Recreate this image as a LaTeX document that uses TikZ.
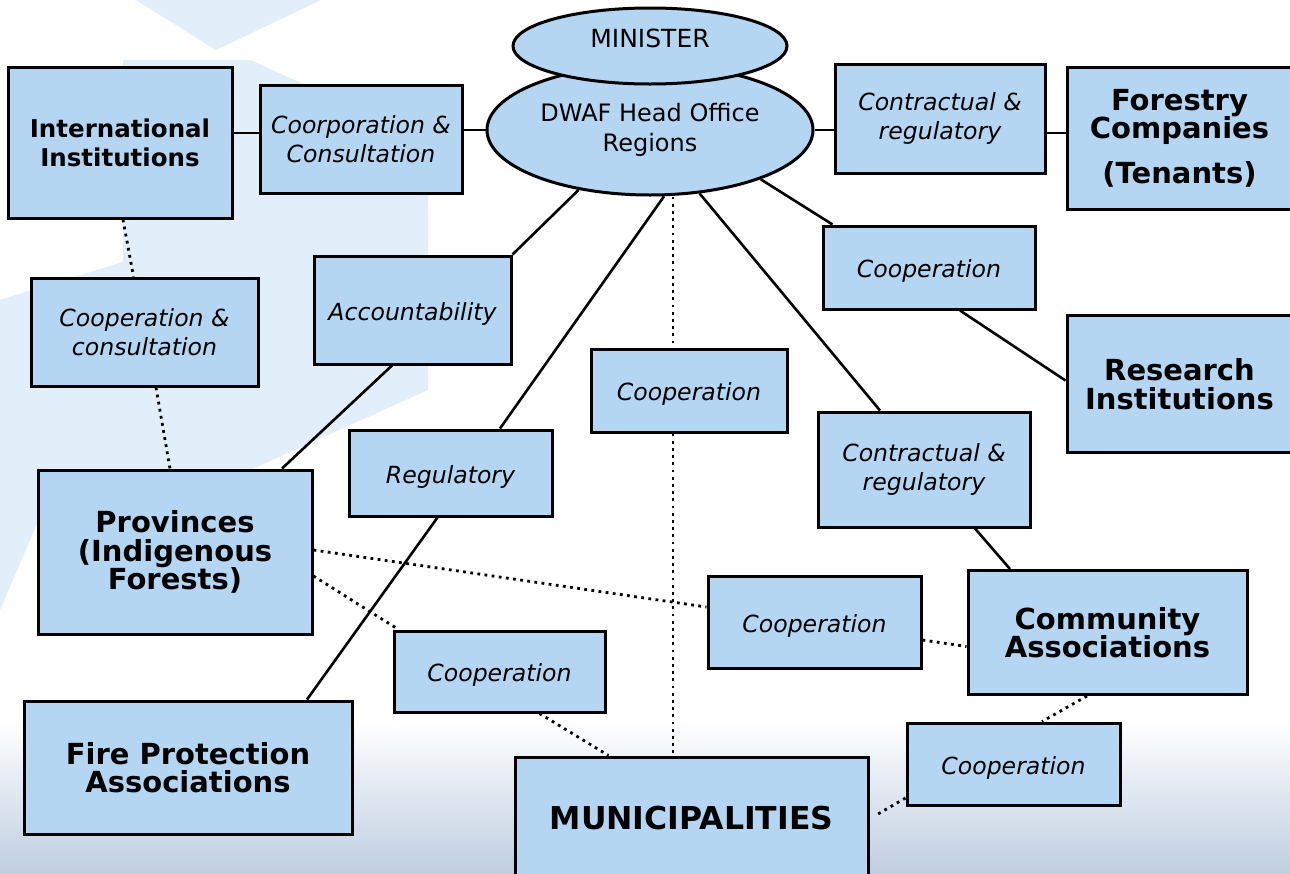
\documentclass[tikz,border=0pt]{standalone}
\usepackage{fontspec}
\setmainfont{DejaVu Sans}
\usetikzlibrary{shapes.geometric,calc}
\definecolor{boxblue}{RGB}{181,214,243}
\definecolor{bgpale}{RGB}{226,238,249}
\definecolor{bgdark}{RGB}{192,206,225}
\tikzset{
  box/.style={draw=black, line width=3pt, fill=boxblue, inner sep=0pt, align=center, rectangle},
  oval/.style={draw=black, line width=3pt, fill=boxblue, inner sep=0pt, align=center, ellipse},
  lbl/.style={font=\fontsize{23.6}{29}\selectfont\itshape},
  one/.style={text height=20pt, text depth=0pt},
  big/.style={font=\fontsize{29}{28.5}\selectfont\bfseries},
  mid/.style={font=\fontsize{24.5}{29}\selectfont\bfseries},
  plain/.style={font=\fontsize{24}{30}\selectfont},
  link/.style={draw=black, line width=2.6pt},
  dots/.style={draw=black, line width=2.8pt, dash pattern=on 2.8pt off 4.4pt},
}
\begin{document}
\begin{tikzpicture}[x=1pt,y=-1pt]
\useasboundingbox (0,0) rectangle (1290,873);
% faint background
\fill[white] (0,0) rectangle (1290,873);
\fill[bgpale] (136,0) -- (216,50) -- (321,0) -- cycle;
\fill[bgpale] (250,60) -- (428,140) -- (428,390) -- (250,470) -- (60,470) -- (0,610) -- (0,300) -- (123,262) -- (123,60) -- cycle;
\shade[top color=white, bottom color=bgdark] (0,720) rectangle (1290,873);

% ellipses
\node[oval, minimum width=326pt, minimum height=130pt, plain] (dwaf) at (650,130) {DWAF Head Office\\Regions};
\node[oval, minimum width=274pt, minimum height=76pt] (minister) at (650,46) {};
\node[font=\fontsize{25}{30}\selectfont, inner sep=0pt] (mintext) at (650,38) {MINISTER};

% boxes
\node[box, minimum width=224pt, minimum height=151pt, mid] (intl) at (120,142.5) {International\\Institutions};
\node[box, minimum width=202pt, minimum height=108pt, lbl] (coorp) at (361,139) {Coorporation \&\\Consultation};
\node[box, minimum width=210pt, minimum height=109pt, lbl] (contr1) at (940,118.5) {Contractual \&\\regulatory};
\node[box, minimum width=225pt, minimum height=142pt, big] (forestry) at (1179.5,138) {Forestry\\Companies\\[16pt](Tenants)};
\node[box, minimum width=212pt, minimum height=83pt, lbl, one] (coopRU) at (929,267.5) {Cooperation};
\node[box, minimum width=225pt, minimum height=137pt, big] (research) at (1179.5,384) {Research\\Institutions};
\node[box, minimum width=197pt, minimum height=108pt, lbl, one] (account) at (412.5,310) {Accountability};
\node[box, minimum width=227pt, minimum height=108pt, lbl] (cc) at (144.5,332) {Cooperation \&\\consultation};
\node[box, minimum width=196pt, minimum height=83pt, lbl, one] (coopC) at (689,390.5) {Cooperation};
\node[box, minimum width=212pt, minimum height=115pt, lbl] (contr2) at (924,469.5) {Contractual \&\\regulatory};
\node[box, minimum width=203pt, minimum height=86pt, lbl, one] (regul) at (450.5,473) {Regulatory};
\node[box, minimum width=274pt, minimum height=164pt, big] (prov) at (175,552) {Provinces\\(Indigenous\\Forests)};
\node[box, minimum width=213pt, minimum height=92pt, lbl, one] (coopM) at (814.5,622) {Cooperation};
\node[box, minimum width=279pt, minimum height=124pt, big] (comm) at (1107.5,632.5) {Community\\Associations};
\node[box, minimum width=211pt, minimum height=81pt, lbl, one] (coopL) at (499.5,671.5) {Cooperation};
\node[box, minimum width=328pt, minimum height=133pt, big] (fire) at (188,767.5) {Fire Protection\\Associations};
\node[box, minimum width=353pt, minimum height=123pt, font=\fontsize{31.5}{30}\selectfont\bfseries] (muni) at (691.5,818.5) {MUNICIPALITIES};
\node[box, minimum width=213pt, minimum height=82pt, lbl, one] (coopR) at (1013.5,764) {Cooperation};

% connectors
\coordinate (yA) at (0,133);
\path[link] (intl.east |- yA) -- (coorp.west |- yA);
\path[link] (coorp.east |- dwaf.west) -- (dwaf.west);
\path[link] (dwaf.east) -- (contr1.west |- dwaf.east);
\path[link] (contr1.east |- yA) -- (forestry.west |- yA);
\path[link] (dwaf.220) -- (account.north east);
\path[link] ([xshift=-20.5pt]account.south) -- ([xshift=107pt]prov.north);
\path[link] (dwaf.282) -- ([xshift=49.5pt]regul.north);
\path[link] ([xshift=-13pt]regul.south) -- ([xshift=119pt]fire.north);
\path[link] (dwaf.308) -- ([xshift=-44pt]contr2.north);
\path[link] (dwaf.336.4) -- ([xshift=11pt]coopRU.north west);
\path[link] ([xshift=31pt]coopRU.south) -- ([yshift=3.5pt]research.west);
\path[link] ([xshift=51pt]contr2.south) -- ([xshift=-97.5pt]comm.north);

\path[dots] ([xshift=3pt]intl.south) -- ([xshift=-11pt]cc.north);
\path[dots] ([xshift=11.5pt]cc.south) -- ([xshift=-5pt]prov.north);
\path[dots] ([xshift=-16pt]coopC.north |- dwaf.south) -- ([xshift=-16pt]coopC.north);
\path[dots] ([xshift=-16pt]coopC.south) -- ([xshift=-16pt]coopC.south |- muni.north);
\path[dots] ([yshift=2pt]prov.east) -- ([yshift=15pt]coopM.west);
\path[dots] ([yshift=-18pt]coopM.east) -- ([yshift=-14pt]comm.west);
\path[dots] ([yshift=-24pt]prov.east) -- ([xshift=6pt]coopL.north west);
\path[dots] ([xshift=40pt]coopL.south) -- ([xshift=-83pt]muni.north);
\path[dots] ([xshift=-20.5pt]comm.south) -- ([xshift=28.5pt]coopR.north);
\path[dots] ([yshift=-34pt]coopR.west) -- ([xshift=5pt,yshift=2.5pt]muni.east);
\end{tikzpicture}
\end{document}
